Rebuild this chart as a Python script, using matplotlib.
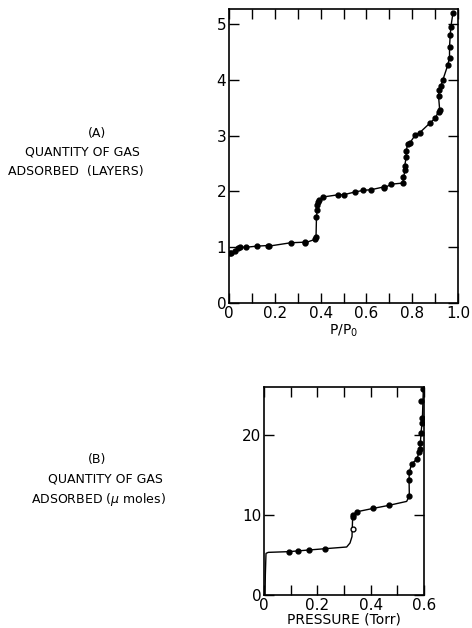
import matplotlib
matplotlib.use("Agg")
import matplotlib.pyplot as plt
import numpy as np

# (A) layers vs relative pressure
a_x = [0.003, 0.01, 0.025, 0.04, 0.05, 0.076, 0.124, 0.17, 0.175, 0.27, 0.33, 0.333,
       0.375, 0.38, 0.382, 0.385, 0.383, 0.387, 0.393, 0.41, 0.477, 0.5, 0.55, 0.587,
       0.62, 0.675, 0.678, 0.708, 0.76, 0.762, 0.77, 0.767, 0.774, 0.774, 0.78, 0.79,
       0.813, 0.832, 0.876, 0.9, 0.915, 0.92, 0.915, 0.918, 0.925, 0.934, 0.955, 0.963,
       0.963, 0.966, 0.969, 0.978]
a_y = [0.89, 0.90, 0.93, 0.99, 1.00, 1.00, 1.02, 1.03, 1.02, 1.08, 1.09, 1.08,
       1.14, 1.18, 1.54, 1.66, 1.75, 1.81, 1.85, 1.90, 1.94, 1.94, 1.99, 2.02,
       2.03, 2.08, 2.06, 2.13, 2.15, 2.26, 2.39, 2.45, 2.62, 2.73, 2.85, 2.87,
       3.01, 3.05, 3.22, 3.31, 3.43, 3.46, 3.71, 3.82, 3.89, 4.00, 4.26, 4.40,
       4.59, 4.80, 4.95, 5.20]

# (B) micromoles vs pressure (Torr)
b_x = [0.094, 0.126, 0.17, 0.23, 0.3325, 0.335, 0.3475, 0.41, 0.4675, 0.545,
       0.544, 0.545, 0.554, 0.5725, 0.5825, 0.585, 0.585, 0.589, 0.5925, 0.594,
       0.589, 0.5975]
b_y = [5.42, 5.5, 5.63, 5.79, 9.8, 10.0, 10.4, 10.83, 11.2, 12.4,
       14.4, 15.4, 16.4, 16.96, 17.9, 18.3, 18.96, 20.3, 21.46, 22.1,
       24.2, 25.7]
b_open_x = [0.335]
b_open_y = [8.25]
b_curve_x = [0.004, 0.005, 0.0075, 0.016, 0.094, 0.17, 0.23, 0.31, 0.3225, 0.33,
             0.3325, 0.335, 0.3475, 0.41, 0.4675, 0.535, 0.545, 0.544, 0.545, 0.554,
             0.5725, 0.5825, 0.585, 0.589, 0.5925, 0.594, 0.596, 0.5975, 0.598]
b_curve_y = [0.0, 2.5, 5.2, 5.33, 5.42, 5.63, 5.79, 6.0, 6.5, 7.3,
             9.8, 10.0, 10.4, 10.83, 11.2, 11.7, 12.4, 14.4, 15.4, 16.4,
             16.96, 17.9, 18.3, 20.3, 21.46, 22.1, 24.2, 25.7, 26.0]

W, H = 472, 628
fig = plt.figure(figsize=(W / 100, H / 100), dpi=100)


def px_axes(l, t, r, b):
    return fig.add_axes([l / W, 1 - b / H, (r - l) / W, (b - t) / H])


def style(ax):
    for s in ax.spines.values():
        s.set_linewidth(1.2)
    ax.tick_params(which='both', direction='in', top=True, right=True,
                   length=7, width=1.0, labelsize=11, pad=2)


ax1 = px_axes(229, 9, 458, 303)
ax1.plot(a_x, a_y, color='black', lw=1.0)
ax1.plot(a_x, a_y, 'o', color='black', ms=3.5)
ax1.set_xlim(0, 1.0)
ax1.set_ylim(0, 5.27)
ax1.set_xticks(np.arange(0, 1.01, 0.1))
ax1.set_xticklabels(['0', '', '0.2', '', '0.4', '', '0.6', '', '0.8', '', '1.0'])
ax1.set_yticks([0, 1, 2, 3, 4, 5])
style(ax1)
ax1.set_xlabel('P/P$_0$', fontsize=10, labelpad=1)

ax2 = px_axes(264, 387, 424, 595)
ax2.plot(b_curve_x, b_curve_y, color='black', lw=1.0)
ax2.plot(b_x, b_y, 'o', color='black', ms=3.5)
ax2.plot(b_open_x, b_open_y, 'o', mfc='white', mec='black', ms=3.5)
ax2.set_xlim(0, 0.6)
ax2.set_ylim(0, 26)
ax2.set_xticks(np.arange(0, 0.61, 0.1))
ax2.set_xticklabels(['0', '', '0.2', '', '0.4', '', '0.6'])
ax2.set_yticks([0, 10, 20])
style(ax2)
ax2.set_xlabel('PRESSURE (Torr)', fontsize=10, labelpad=0)

fs = 9
fig.text(97 / W, 1 - 133 / H, '(A)', ha='center', va='center', fontsize=fs)
fig.text(82 / W, 1 - 152 / H, 'QUANTITY OF GAS', ha='center', va='center', fontsize=fs)
fig.text(76 / W, 1 - 172 / H, 'ADSORBED  (LAYERS)', ha='center', va='center', fontsize=fs)

fig.text(97 / W, 1 - 460 / H, '(B)', ha='center', va='center', fontsize=fs)
fig.text(105 / W, 1 - 479 / H, 'QUANTITY OF GAS', ha='center', va='center', fontsize=fs)
fig.text(98 / W, 1 - 499 / H, 'ADSORBED ($\\mu$ moles)', ha='center', va='center', fontsize=fs)

fig.savefig('out.png', dpi=100)
